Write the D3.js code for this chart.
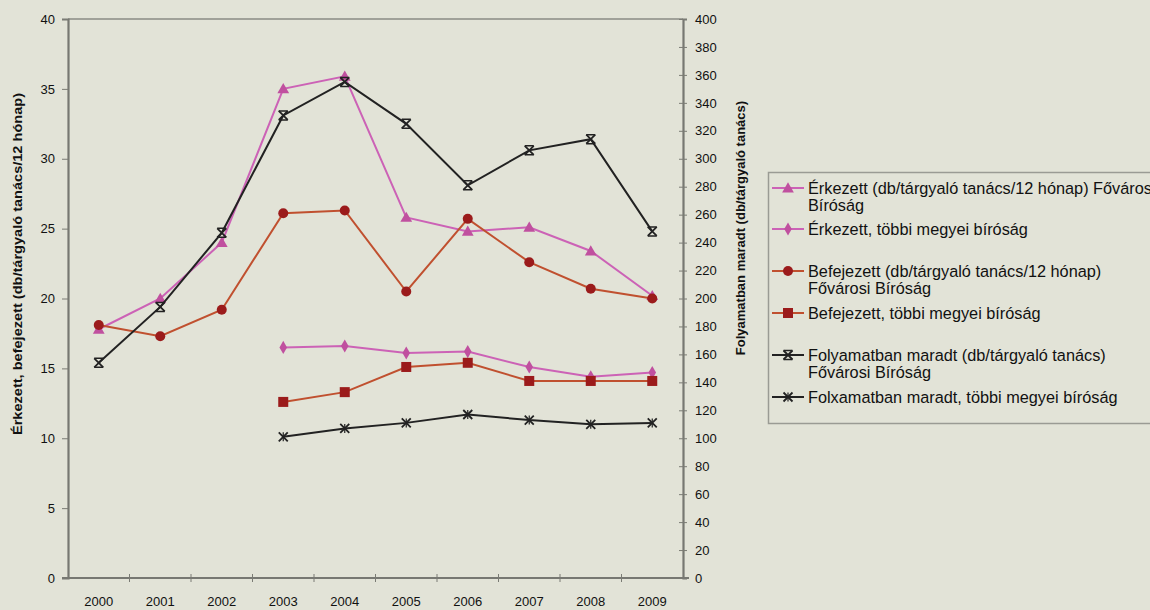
<!DOCTYPE html>
<html><head><meta charset="utf-8">
<script src="https://cdn.jsdelivr.net/npm/d3@7"></script>
<style>
body{margin:0;background:#e2e3d7;}
svg{display:block;font-family:"Liberation Sans",Arial,sans-serif;}
</style></head><body>
<svg id="c" width="1150" height="610"></svg>
<script>
const years = ["2000","2001","2002","2003","2004","2005","2006","2007","2008","2009"];
const erkezettFov = [17.8,20.0,24.0,35.0,35.9,25.8,24.8,25.1,23.4,20.2];
const erkezettTobbi = [null,null,null,16.5,16.6,16.1,16.2,15.1,14.4,14.7];
const befejezettFov = [18.1,17.3,19.2,26.1,26.3,20.5,25.7,22.6,20.7,20.0];
const befejezettTobbi = [null,null,null,12.6,13.3,15.1,15.4,14.1,14.1,14.1];
const folyamatFov = [154,194,247,331,355,325,281,306,314,248];
const folyamatTobbi = [null,null,null,101,107,111,117,113,110,111];
const leftTicks = [0,5,10,15,20,25,30,35,40];
const rightTicks = d3.range(0,401,20);

const svg = d3.select("#c");
const L=68, R=683, T=19, B=578;
const x = d3.scaleBand().domain(years).range([L,R]);
const yL = d3.scaleLinear().domain([0,40]).range([B,T]);
const yR = d3.scaleLinear().domain([0,400]).range([B,T]);
const cx = d => x(d)+x.bandwidth()/2;

svg.append("line").attr("x1",L).attr("x2",R).attr("y1",T).attr("y2",T).attr("stroke","#8a8b84").attr("stroke-width",1.5);

const gl = svg.append("g").attr("transform",`translate(${L},0)`).call(d3.axisLeft(yL).tickValues(leftTicks).tickSize(6).tickPadding(7));
const gr = svg.append("g").attr("transform",`translate(${R},0)`).call(d3.axisRight(yR).tickValues(rightTicks).tickSize(4).tickPadding(8));
gr.selectAll(".tick line").attr("x1",-4);
const gb = svg.append("g").attr("transform",`translate(0,${B})`).call(d3.axisBottom(x).tickSize(0).tickPadding(19));
svg.append("g").selectAll("line").data(years.slice(1)).join("line")
  .attr("x1",d=>x(d)).attr("x2",d=>x(d)).attr("y1",B-4).attr("y2",B+4).attr("stroke","#7a7b74");

[gl,gr,gb].forEach(g=>{
  g.select(".domain").attr("stroke","#777872").attr("stroke-width",2.2);
  g.selectAll(".tick line").attr("stroke","#7a7b74");
  g.selectAll(".tick text").attr("fill","#111").attr("font-size",13).attr("font-family","'Liberation Sans',Arial,sans-serif");
});
gb.select(".domain").attr("d",`M${L-6},0H${R+6}`);

svg.append("text").attr("transform","translate(22,264) rotate(-90)").attr("text-anchor","middle")
  .attr("font-size",12).attr("font-weight","bold").attr("fill","#111")
  .attr("textLength",342).attr("lengthAdjust","spacingAndGlyphs")
  .text("Érkezett, befejezett (db/tárgyaló tanács/12 hónap)");
svg.append("text").attr("transform","translate(745,228) rotate(-90)").attr("text-anchor","middle")
  .attr("font-size",13).attr("font-weight","bold").attr("fill","#111").text("Folyamatban maradt (db/tárgyaló tanács)");

const pink="#cc62b6", pinkM="#c0509f", redL="#c0502f", redM="#9b1b1b", blk="#222";
const series = [
  {vals:erkezettFov, y:yL, line:pink, mk:pinkM, shape:"tri"},
  {vals:erkezettTobbi, y:yL, line:pink, mk:pinkM, shape:"dia"},
  {vals:befejezettFov, y:yL, line:redL, mk:redM, shape:"circ"},
  {vals:befejezettTobbi, y:yL, line:redL, mk:redM, shape:"sq"},
  {vals:folyamatFov, y:yR, line:blk, mk:blk, shape:"star"},
  {vals:folyamatTobbi, y:yR, line:blk, mk:blk, shape:"x"}
];
function marker(g, shape, col, px, py){
  if(shape==="tri") g.append("path").attr("d",d3.symbol(d3.symbolTriangle,60)()).attr("transform",`translate(${px},${py+1})`).attr("fill",col);
  else if(shape==="dia") g.append("path").attr("d",d3.symbol(d3.symbolDiamond,50)()).attr("transform",`translate(${px},${py})`).attr("fill",col);
  else if(shape==="circ") g.append("circle").attr("cx",px).attr("cy",py).attr("r",5).attr("fill",col);
  else if(shape==="sq") g.append("rect").attr("x",px-5).attr("y",py-5).attr("width",10).attr("height",10).attr("fill",col);
  else {
    const s=4.5;
    g.append("path").attr("d",`M${px-s},${py-s}L${px+s},${py+s}M${px-s},${py+s}L${px+s},${py-s}`).attr("stroke",col).attr("stroke-width",1.8);
    if(shape==="star") g.append("path").attr("d",`M${px-s},${py-s}H${px+s}M${px-s},${py+s}H${px+s}`).attr("stroke",col).attr("stroke-width",1.5);
    else g.append("path").attr("d",`M${px},${py-s}V${py+s}`).attr("stroke",col).attr("stroke-width",1.2);
  }
}
series.forEach(s=>{
  const pts = years.map((yr,i)=>({yr,v:s.vals[i]})).filter(d=>d.v!==null);
  svg.append("path").datum(pts).attr("fill","none").attr("stroke",s.line).attr("stroke-width",2)
    .attr("d",d3.line().x(d=>cx(d.yr)).y(d=>s.y(d.v)));
  const g = svg.append("g");
  pts.forEach(d=>marker(g,s.shape,s.mk,cx(d.yr),s.y(d.v)));
});

const legendLabels = [
  ["Érkezett (db/tárgyaló tanács/12 hónap) Fővárosi","Bíróság"],
  ["Érkezett, többi megyei bíróság"],
  ["Befejezett (db/tárgyaló tanács/12 hónap)","Fővárosi Bíróság"],
  ["Befejezett, többi megyei bíróság"],
  ["Folyamatban maradt (db/tárgyaló tanács)","Fővárosi Bíróság"],
  ["Folxamatban maradt, többi megyei bíróság"]
];
const legY = [188,229,271,313,355,397];
svg.append("rect").attr("x",768.5).attr("y",172.5).attr("width",400).attr("height",251).attr("fill","none").attr("stroke","#9a9b94").attr("stroke-width",1.5);
const lg = svg.append("g");
series.forEach((s,i)=>{
  const yy = legY[i];
  lg.append("line").attr("x1",772).attr("x2",804).attr("y1",yy).attr("y2",yy).attr("stroke",s.line).attr("stroke-width",2);
  marker(lg,s.shape,s.mk,788,yy);
  const t = lg.append("text").attr("x",808).attr("y",yy+6).attr("font-size",16.3).attr("fill","#111");
  legendLabels[i].forEach((ln,j)=>t.append("tspan").attr("x",808).attr("dy",j?17:0).text(ln));
});
</script></body></html>
